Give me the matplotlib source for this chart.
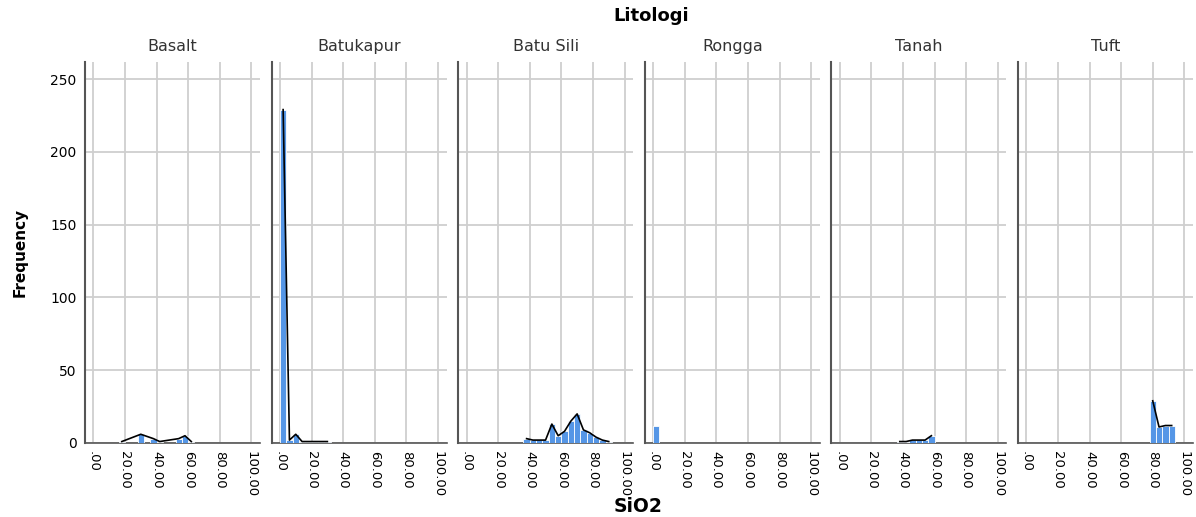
import matplotlib.pyplot as plt

plt.rcParams['font.family'] = ['DejaVu Sans']

# data
panels = ["Basalt", "Batukapur", "Batu Sili", "Rongga", "Tanah", "Tuft"]
bin_width = 4

basalt_left = [16, 28, 36, 40, 52, 56, 60]
basalt_count = [1, 6, 3, 1, 3, 5, 1]

batukapur_left = [0, 4, 8, 12, 16, 20, 24, 28]
batukapur_count = [229, 2, 6, 1, 1, 1, 1, 1]

batusili_left = [36, 40, 44, 48, 52, 56, 60, 64, 68, 72, 76, 80, 84, 88]
batusili_count = [3, 2, 2, 2, 13, 5, 8, 15, 20, 9, 7, 4, 2, 1]

rongga_left = [0]
rongga_count = [12]

tanah_left = [36, 40, 44, 48, 52, 56]
tanah_count = [1, 1, 2, 2, 2, 5]

tuft_left = [78, 82, 86, 90]
tuft_count = [29, 11, 12, 12]

lefts = [basalt_left, batukapur_left, batusili_left, rongga_left, tanah_left, tuft_left]
counts = [basalt_count, batukapur_count, batusili_count, rongga_count, tanah_count, tuft_count]

xticks = [0, 20, 40, 60, 80, 100]
xtick_labels = [".00", "20.00", "40.00", "60.00", "80.00", "100.00"]
yticks = [0, 50, 100, 150, 200, 250]

fig = plt.figure(figsize=(11.96, 5.17), dpi=100)

bar_color = "#5596e6"
step = 186.6 / 1196
for i, name in enumerate(panels):
    ax = fig.add_axes([85 / 1196 + i * step, 1 - 443 / 517, 175 / 1196, (443 - 62) / 517])
    ax.bar(lefts[i], counts[i], width=bin_width, align="edge", color=bar_color,
           edgecolor="white", linewidth=0.6, zorder=3)
    if len(lefts[i]) > 1:
        centers = [l + bin_width / 2 for l in lefts[i]]
        ax.plot(centers, counts[i], color="black", linewidth=1.2, zorder=4)
    ax.set_xlim(-5.3, 105.5)
    ax.set_ylim(0, 261.7)
    ax.set_xticks(xticks)
    ax.set_xticklabels(xtick_labels, rotation=270, fontsize=9.5)
    ax.set_yticks(yticks)
    if i == 0:
        ax.set_yticklabels([str(v) for v in yticks], fontsize=10)
    else:
        ax.set_yticklabels([])
    ax.tick_params(length=0, pad=6)
    ax.grid(True, color="#cfcfcf", linewidth=1.3, zorder=0)
    ax.set_axisbelow(True)
    for s in ["top", "right"]:
        ax.spines[s].set_visible(False)
    ax.spines["left"].set_color("#555555")
    ax.spines["left"].set_linewidth(1.5)
    ax.spines["bottom"].set_color("#555555")
    ax.spines["bottom"].set_linewidth(1.2)
    ax.set_title(name, fontsize=11.5, color="#333333", pad=8)

fig.text(651 / 1196, 1 - 16 / 517, "Litologi", ha="center", va="center", fontsize=13, fontweight="bold")
fig.text(638 / 1196, 1 - 506 / 517, "SiO2", ha="center", va="center", fontsize=13.5, fontweight="bold")
fig.text(20 / 1196, 1 - 252 / 517, "Frequency", ha="center", va="center", rotation=90,
         fontsize=11, fontweight="bold")

fig.savefig("out.png", dpi=100)
